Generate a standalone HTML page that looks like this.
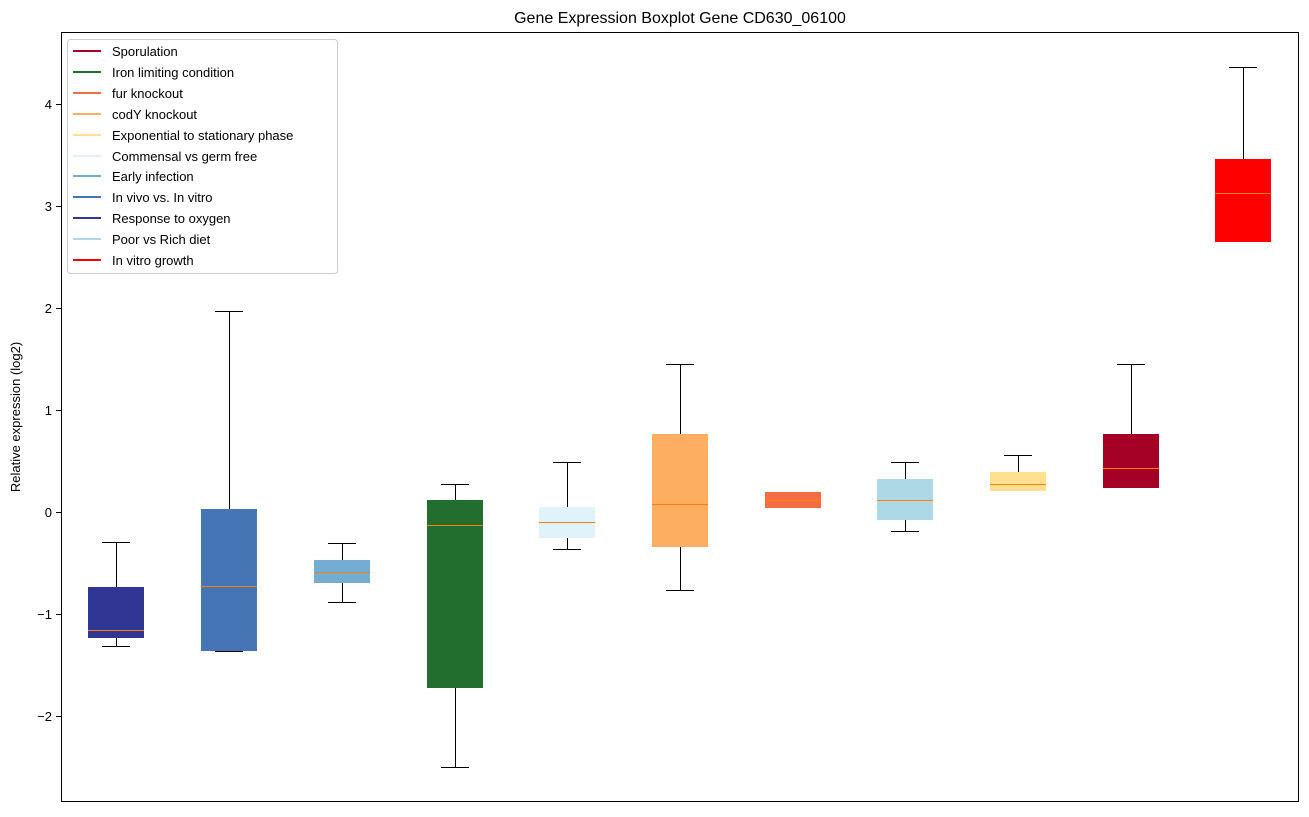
<!DOCTYPE html>
<html><head><meta charset="utf-8"><style>body{margin:0;background:#fff}</style></head><body>
<svg width="1309" height="812" xmlns="http://www.w3.org/2000/svg" font-family="Liberation Sans, DejaVu Sans, sans-serif">
<rect width="1309" height="812" fill="#fff"/>
<text x="680" y="23" font-size="16" text-anchor="middle">Gene Expression Boxplot Gene CD630_06100</text>
<g>
<rect x="88" y="587" width="56" height="51" fill="#313695"/>
<rect x="201" y="509" width="56" height="142" fill="#4575b4"/>
<rect x="314" y="560" width="56" height="23" fill="#74add1"/>
<rect x="427" y="500" width="56" height="188" fill="#226e2e"/>
<rect x="539" y="507" width="56" height="31" fill="#e0f3f8"/>
<rect x="652" y="434" width="56" height="113" fill="#fdae61"/>
<rect x="765" y="492" width="56" height="16" fill="#f46d43"/>
<rect x="877" y="479" width="56" height="41" fill="#add8e6"/>
<rect x="990" y="472" width="56" height="19" fill="#fee090"/>
<rect x="1103" y="434" width="56" height="54" fill="#a50026"/>
<rect x="1215" y="159" width="56" height="83" fill="#ff0000"/>
</g>
<g stroke="#000" stroke-width="1" shape-rendering="crispEdges">
<line x1="116.5" y1="542" x2="116.5" y2="587"/><line x1="116.5" y1="638" x2="116.5" y2="646"/><line x1="102" y1="542.5" x2="130" y2="542.5"/><line x1="102" y1="646.5" x2="130" y2="646.5"/>
<line x1="229.5" y1="311" x2="229.5" y2="509"/><line x1="215" y1="311.5" x2="243" y2="311.5"/><line x1="215" y1="651.5" x2="243" y2="651.5"/>
<line x1="342.5" y1="543" x2="342.5" y2="560"/><line x1="342.5" y1="583" x2="342.5" y2="602"/><line x1="328" y1="543.5" x2="356" y2="543.5"/><line x1="328" y1="602.5" x2="356" y2="602.5"/>
<line x1="455.5" y1="484" x2="455.5" y2="500"/><line x1="455.5" y1="688" x2="455.5" y2="767"/><line x1="441" y1="484.5" x2="469" y2="484.5"/><line x1="441" y1="767.5" x2="469" y2="767.5"/>
<line x1="567.5" y1="462" x2="567.5" y2="507"/><line x1="567.5" y1="538" x2="567.5" y2="549"/><line x1="553" y1="462.5" x2="581" y2="462.5"/><line x1="553" y1="549.5" x2="581" y2="549.5"/>
<line x1="680.5" y1="364" x2="680.5" y2="434"/><line x1="680.5" y1="547" x2="680.5" y2="590"/><line x1="666" y1="364.5" x2="694" y2="364.5"/><line x1="666" y1="590.5" x2="694" y2="590.5"/>
<line x1="905.5" y1="462" x2="905.5" y2="479"/><line x1="905.5" y1="520" x2="905.5" y2="531"/><line x1="891" y1="462.5" x2="919" y2="462.5"/><line x1="891" y1="531.5" x2="919" y2="531.5"/>
<line x1="1018.5" y1="455" x2="1018.5" y2="472"/><line x1="1004" y1="455.5" x2="1032" y2="455.5"/>
<line x1="1131.5" y1="364" x2="1131.5" y2="434"/><line x1="1117" y1="364.5" x2="1145" y2="364.5"/>
<line x1="1243.5" y1="67" x2="1243.5" y2="159"/><line x1="1229" y1="67.5" x2="1257" y2="67.5"/>
</g>
<g stroke="#ff7f0e" stroke-width="1" shape-rendering="crispEdges">
<line x1="88" y1="630.5" x2="144" y2="630.5"/><line x1="201" y1="586.5" x2="257" y2="586.5"/><line x1="314" y1="572.5" x2="370" y2="572.5"/>
<line x1="427" y1="525.5" x2="483" y2="525.5"/><line x1="539" y1="522.5" x2="595" y2="522.5"/><line x1="652" y1="504.5" x2="708" y2="504.5"/>
<line x1="765" y1="500.5" x2="821" y2="500.5"/><line x1="877" y1="500.5" x2="933" y2="500.5"/><line x1="990" y1="484.5" x2="1046" y2="484.5"/>
<line x1="1103" y1="468.5" x2="1159" y2="468.5"/><line x1="1215" y1="193.5" x2="1271" y2="193.5"/>
</g>
<rect x="61.5" y="32.5" width="1237" height="769" fill="none" stroke="#000"/>
<g stroke="#000" shape-rendering="crispEdges">
<line x1="56" y1="104.5" x2="61" y2="104.5"/><line x1="56" y1="206.5" x2="61" y2="206.5"/><line x1="56" y1="308.5" x2="61" y2="308.5"/><line x1="56" y1="410.5" x2="61" y2="410.5"/><line x1="56" y1="512.5" x2="61" y2="512.5"/><line x1="56" y1="614.5" x2="61" y2="614.5"/><line x1="56" y1="716.5" x2="61" y2="716.5"/>
</g>
<g font-size="13" text-anchor="end">
<text x="52" y="109">4</text><text x="52" y="211">3</text><text x="52" y="313">2</text><text x="52" y="415">1</text><text x="52" y="517">0</text><text x="52" y="619">−1</text><text x="52" y="721">−2</text>
</g>
<text transform="translate(20,417) rotate(-90)" font-size="13" text-anchor="middle">Relative expression (log2)</text>
<rect x="67.5" y="39.5" width="270" height="234" fill="#fff" stroke="#ccc" rx="3"/>
<g stroke-width="2">
<line x1="73" y1="51" x2="101" y2="51" stroke="#a50026"/><line x1="73" y1="72" x2="101" y2="72" stroke="#226e2e"/>
<line x1="73" y1="93" x2="101" y2="93" stroke="#f46d43"/><line x1="73" y1="114" x2="101" y2="114" stroke="#fdae61"/>
<line x1="73" y1="135" x2="101" y2="135" stroke="#fee090"/><line x1="73" y1="156" x2="101" y2="156" stroke="#e0f3f8"/>
<line x1="73" y1="176" x2="101" y2="176" stroke="#74add1"/><line x1="73" y1="197" x2="101" y2="197" stroke="#4575b4"/>
<line x1="73" y1="218" x2="101" y2="218" stroke="#313695"/><line x1="73" y1="239" x2="101" y2="239" stroke="#add8e6"/>
<line x1="73" y1="260" x2="101" y2="260" stroke="#ff0000"/>
</g>
<g font-size="13">
<text x="112" y="56">Sporulation</text><text x="112" y="77">Iron limiting condition</text><text x="112" y="98">fur knockout</text>
<text x="112" y="119">codY knockout</text><text x="112" y="140">Exponential to stationary phase</text><text x="112" y="161">Commensal vs germ free</text>
<text x="112" y="181">Early infection</text><text x="112" y="202">In vivo vs. In vitro</text><text x="112" y="223">Response to oxygen</text>
<text x="112" y="244">Poor vs Rich diet</text><text x="112" y="265">In vitro growth</text>
</g>
</svg>
</body></html>
